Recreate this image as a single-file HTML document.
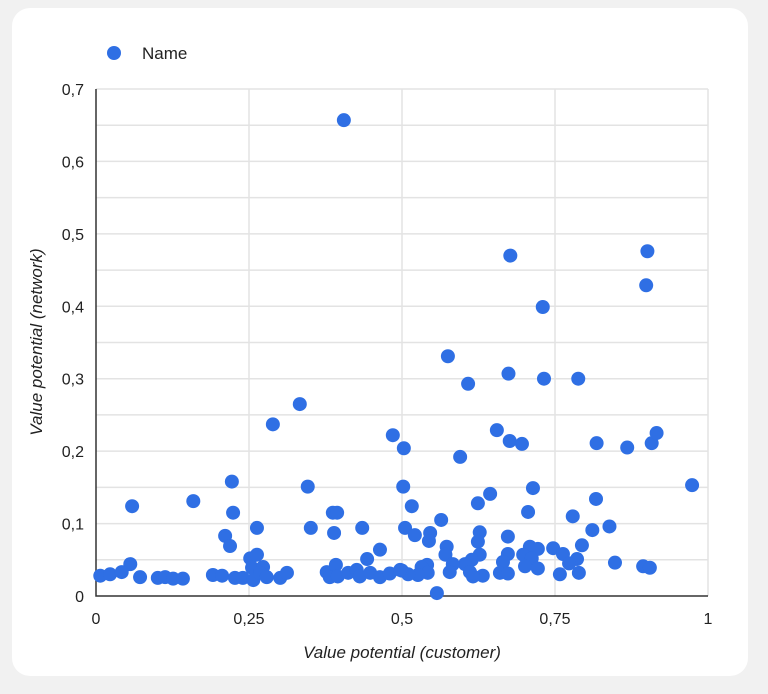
<!DOCTYPE html>
<html><head><meta charset="utf-8"><style>
body{margin:0;background:#f1f1f1;font-family:"Liberation Sans",sans-serif;}
#card{position:absolute;left:12px;top:8px;width:736px;height:668px;background:#fff;border-radius:18px;}
svg{position:absolute;left:0;top:0}
</style></head><body>
<div id="card"></div>
<svg id="chart" width="768" height="694">
<g id="grid"></g>
<g id="ticks"></g>
<g id="pts"></g>
<g>
<circle cx="114" cy="53" r="7" fill="#2f6fe4"/>
<text x="142" y="59" font-size="17" fill="#222">Name</text>
</g>
<text x="402" y="658" font-size="17" font-style="italic" fill="#222" text-anchor="middle">Value potential (customer)</text>
<text transform="translate(42,342) rotate(-90)" font-size="17" font-style="italic" fill="#222" text-anchor="middle">Value potential (network)</text>
</svg>
<script>
const xTicks=[0,0.25,0.5,0.75,1];
const xTickLabels=["0","0,25","0,5","0,75","1"];
const yTicks=[0,0.1,0.2,0.3,0.4,0.5,0.6,0.7];
const yTickLabels=["0","0,1","0,2","0,3","0,4","0,5","0,6","0,7"];
const xs=[0.503,0.502,0.516,0.505,0.521,0.546,0.544,0.564,0.595,0.655,0.676,0.696,0.818,0.868,0.908,0.916,0.974,0.644,0.624,0.714,0.706,0.817,0.779,0.839,0.811,0.794,0.673,0.627,0.624,0.627,0.573,0.571,0.557,0.848,0.894,0.905,0.747,0.763,0.786,0.773,0.789,0.758,0.709,0.722,0.698,0.712,0.701,0.722,0.673,0.665,0.66,0.673,0.614,0.603,0.611,0.632,0.616,0.583,0.578,0.541,0.532,0.542,0.526,0.51,0.5,
0.059,0.159,0.222,0.224,0.211,0.219,0.263,0.289,0.333,0.346,0.351,0.387,0.394,0.389,0.435,0.443,0.464,0.485,0.056,
0.007,0.023,0.042,0.072,0.101,0.113,0.126,0.142,0.191,0.206,0.227,0.24,0.252,0.263,0.255,0.273,0.257,0.268,0.279,0.301,0.312,0.377,0.382,0.392,0.395,0.412,0.426,0.431,0.448,0.464,0.48,0.497,
0.405,0.677,0.901,0.899,0.73,0.575,0.608,0.674,0.732,0.788];
const ys=[0.204,0.151,0.124,0.094,0.084,0.087,0.076,0.105,0.192,0.229,0.214,0.21,0.211,0.205,0.211,0.225,0.153,0.141,0.128,0.149,0.116,0.134,0.11,0.096,0.091,0.07,0.082,0.088,0.075,0.057,0.068,0.057,0.004,0.046,0.041,0.039,0.066,0.058,0.051,0.045,0.032,0.03,0.068,0.065,0.057,0.052,0.041,0.038,0.058,0.047,0.032,0.031,0.05,0.044,0.033,0.028,0.027,0.044,0.033,0.043,0.04,0.032,0.029,0.03,0.035,
0.124,0.131,0.158,0.115,0.083,0.069,0.094,0.237,0.265,0.151,0.094,0.115,0.115,0.087,0.094,0.051,0.064,0.222,0.044,
0.028,0.03,0.033,0.026,0.025,0.026,0.024,0.024,0.029,0.028,0.025,0.025,0.052,0.057,0.039,0.04,0.022,0.032,0.026,0.025,0.032,0.033,0.026,0.043,0.027,0.032,0.036,0.027,0.032,0.026,0.031,0.036,
0.657,0.47,0.476,0.429,0.399,0.331,0.293,0.307,0.3,0.3];
const X0=96,X1=708,Y0=596,Y1=89;
const sx=v=>X0+v*(X1-X0), sy=v=>Y0-v/0.7*(Y0-Y1);
const NS="http://www.w3.org/2000/svg";
const grid=document.getElementById('grid'),ticks=document.getElementById('ticks'),pts=document.getElementById('pts');
function mk(t,a,p){const e=document.createElementNS(NS,t);for(const k in a)e.setAttribute(k,a[k]);p.appendChild(e);return e;}
for(let i=1;i<=14;i++){const l=mk('line',{x1:X0,x2:X1,y1:sy(i*0.05),y2:sy(i*0.05),stroke:'#e3e3e3','stroke-width':1.5},grid);

}
xTicks.forEach((v,i)=>{if(v>0){const l=mk('line',{x1:sx(v),x2:sx(v),y1:Y1,y2:Y0,stroke:'#e3e3e3','stroke-width':1.5},grid);

}
const t=mk('text',{x:sx(v),y:624,'font-size':16,fill:'#222','text-anchor':'middle'},ticks);t.textContent=xTickLabels[i];

});
yTicks.forEach((v,i)=>{const t=mk('text',{x:84,y:sy(v)+6,'font-size':16,fill:'#222','text-anchor':'end'},ticks);t.textContent=yTickLabels[i];

});
const ax=mk('path',{d:`M${X0} ${Y1}V${Y0}H${X1}`,stroke:'#333','stroke-width':1.5,fill:'none'},grid);


xs.forEach((v,i)=>{const c=mk('circle',{cx:sx(v),cy:sy(ys[i]),r:7,fill:'#2f6fe4'},pts);

});
</script>
</body></html>
